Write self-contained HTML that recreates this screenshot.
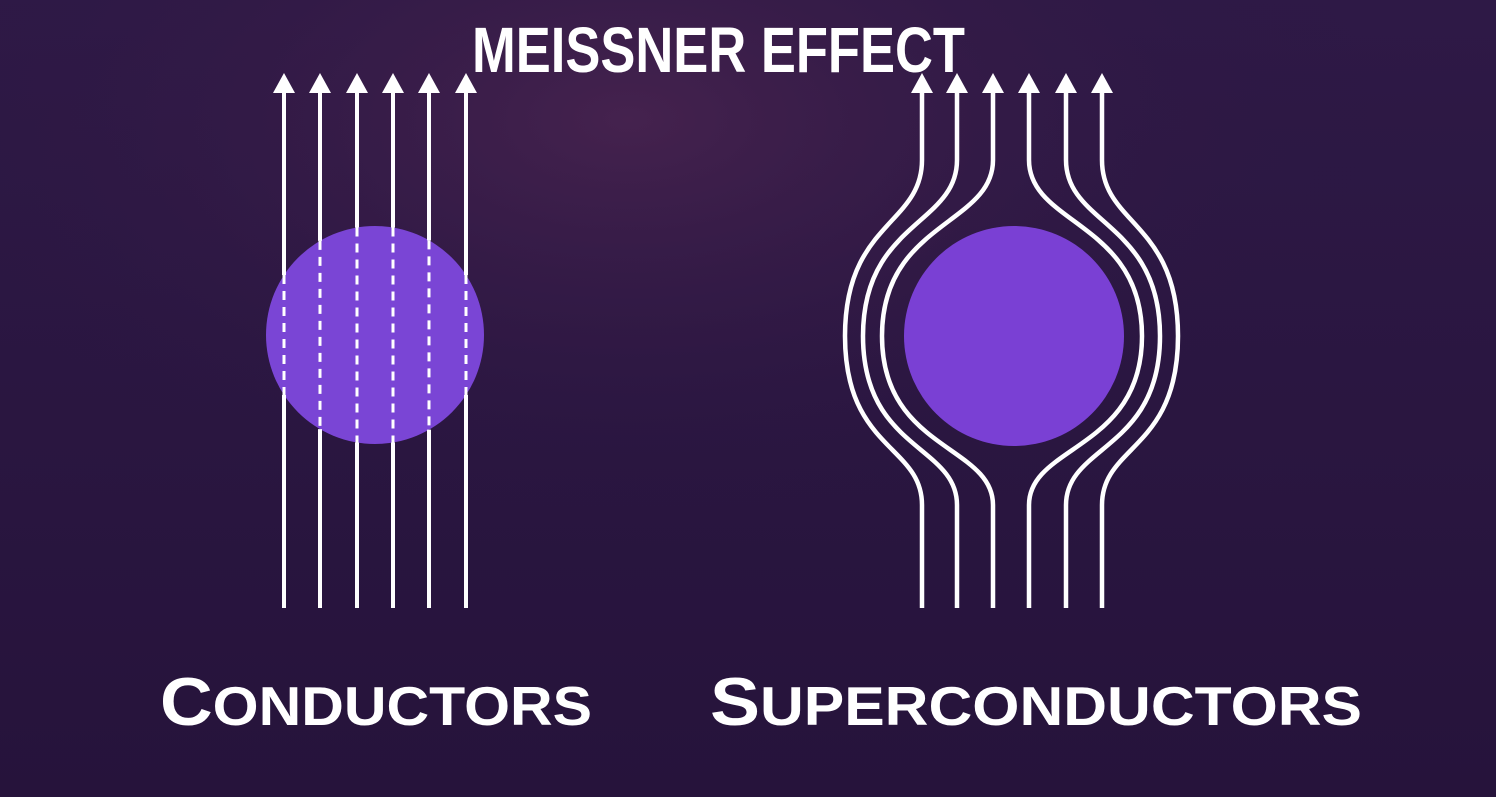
<!DOCTYPE html>
<html><head><meta charset="utf-8"><style>
html,body{margin:0;padding:0;width:1496px;height:797px;overflow:hidden;background:#2a1642;}
svg{display:block}
text{font-family:"Liberation Sans","DejaVu Sans",sans-serif;font-weight:bold;fill:#fff}
</style></head><body>
<svg id="scene" width="1496" height="797" viewBox="0 0 1496 797">
<defs>
<radialGradient id="bg1" cx="0.42" cy="0.15" r="0.5">
<stop offset="0" stop-color="#45224e"/><stop offset="1" stop-color="#2a1642" stop-opacity="0"/>
</radialGradient>
<linearGradient id="bg0" x1="0" y1="0" x2="0" y2="1">
<stop offset="0" stop-color="#2e1946"/><stop offset="1" stop-color="#26133b"/>
</linearGradient>
</defs>
<rect width="1496" height="797" fill="url(#bg0)"/>
<rect width="1496" height="797" fill="url(#bg1)"/>
<text x="472" y="72" font-size="64" textLength="493" lengthAdjust="spacingAndGlyphs">MEISSNER EFFECT</text>
<circle cx="375" cy="335" r="109" fill="#7a45d5"/>
<circle cx="1014" cy="336" r="110" fill="#7a40d4"/>
<g id="left"></g>
<g id="right"></g>
<text x="160" y="725" textLength="432" lengthAdjust="spacingAndGlyphs"><tspan font-size="68">C</tspan><tspan font-size="55">ONDUCTORS</tspan></text>
<text x="710" y="725" textLength="652" lengthAdjust="spacingAndGlyphs"><tspan font-size="68">S</tspan><tspan font-size="55">UPERCONDUCTORS</tspan></text>
</svg>
<script>
const leftLineX = [284, 320, 357, 393, 429, 466];
const rightLineX = [922, 957, 993, 1029, 1066, 1102];
const rightBulgeX = [845, 863, 882, 1142, 1160, 1178];
const NS = "http://www.w3.org/2000/svg";
const L = document.getElementById('left'), R = document.getElementById('right');
function mk(tag, attrs, parent){const e=document.createElementNS(NS,tag);for(const k in attrs)e.setAttribute(k,attrs[k]);parent.appendChild(e);return e;}
function arrow(x, parent){
  const a = mk('polygon',{points:`${x},73 ${x-11},93 ${x+11},93`,fill:'#fff'},parent);
  
  
}
const cx=375, cy=335, r=109;
leftLineX.forEach(x=>{
  const dx=x-cx, h=Math.sqrt(Math.max(0,r*r-dx*dx));
  const top=mk('line',{x1:x,y1:90,x2:x,y2:cy-h,stroke:'#fff','stroke-width':4},L);
  
  
  const mid=mk('line',{x1:x,y1:cy-h,x2:x,y2:cy+h,stroke:'#fff','stroke-width':3,'stroke-dasharray':'9 7'},L);
  
  
  const bot=mk('line',{x1:x,y1:cy+h,x2:x,y2:608,stroke:'#fff','stroke-width':4},L);
  
  
  arrow(x,L);
});
rightLineX.forEach((x,i)=>{
  const m=rightBulgeX[i];
  const d=`M${x},608 L${x},505 C${x},445 ${m},450 ${m},336 C${m},222 ${x},225 ${x},160 L${x},90`;
  const p=mk('path',{d:d,fill:'none',stroke:'#fff','stroke-width':4.5},R);
  
  
  arrow(x,R);
});
</script>
</body></html>
